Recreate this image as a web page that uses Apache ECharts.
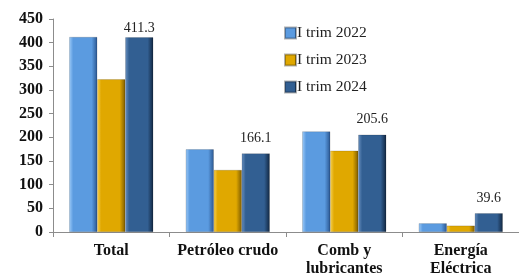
<!DOCTYPE html>
<html><head><meta charset="utf-8">
<script src="https://cdn.jsdelivr.net/npm/echarts@6/dist/echarts.min.js"></script>
<style>html,body{margin:0;padding:0;background:#fff}#c{width:519px;height:278px}</style>
</head><body><div id="c"></div>
<script>
const categories = ['Total', 'Petróleo crudo', 'Comb y\nlubricantes', 'Energía\nEléctrica'];
const seriesNames = ['I trim 2022', 'I trim 2023', 'I trim 2024'];
const values2022 = [412.0, 174.7, 212.5, 18.3];
const values2023 = [322.6, 131.0, 171.8, 13.4];
const values2024 = [411.3, 166.1, 205.6, 39.6];
const yTicks = [0, 50, 100, 150, 200, 250, 300, 350, 400, 450];

const serif = '"Liberation Serif", "DejaVu Serif", serif';
function grad(light, base, dark) {
  return new echarts.graphic.LinearGradient(0, 0, 1, 0, [
    {offset: 0, color: light}, {offset: 0.14, color: base},
    {offset: 0.8, color: base}, {offset: 1, color: dark}
  ]);
}
const fills = [
  grad('#9ccaf8', '#5b9be0', '#2a5690'),
  grad('#f7d050', '#e0a800', '#7d5c00'),
  grad('#6890c0', '#325f92', '#112640')
];
const chart = echarts.init(document.getElementById('c'), null, {renderer: 'canvas'});
const all = [values2022, values2023, values2024];
chart.setOption({
  animation: false,
  grid: {left: 53, right: 0, top: 19, bottom: 46, containLabel: false},
  legend: {
    orient: 'vertical', left: 279, top: 20, itemGap: 11,
    itemWidth: 11, itemHeight: 11,
    textStyle: {fontFamily: serif, fontSize: 15.5, color: '#222', padding: [0, 0, 0, -4]},
    data: seriesNames.map((n, i) => ({name: n, icon: 'rect'}))
  },
  xAxis: {
    type: 'category', data: categories,
    axisLine: {lineStyle: {color: '#8c8c8c', width: 1}},
    axisTick: {show: true, length: 5, lineStyle: {color: '#8c8c8c'}},
    axisLabel: {fontFamily: serif, fontWeight: 'bold', fontSize: 16, color: '#111', margin: 10, lineHeight: 18, interval: 0}
  },
  yAxis: {
    type: 'value', min: yTicks[0], max: yTicks[yTicks.length - 1], interval: 50,
    splitLine: {show: false},
    axisLine: {show: true, lineStyle: {color: '#8c8c8c'}},
    axisTick: {show: true, length: 4, lineStyle: {color: '#8c8c8c'}},
    axisLabel: {fontFamily: serif, fontWeight: 'bold', fontSize: 16, color: '#111', margin: 10}
  },
  series: all.map((vals, i) => ({
    name: seriesNames[i], type: 'bar', barWidth: 28, barGap: '0%',
    itemStyle: {color: fills[i], borderColor: 'rgba(0,0,0,0.3)', borderWidth: 0.5},
    data: vals.map((v, j) => {
      if (i === 2) {
        return {value: v, label: {show: true, position: 'top', distance: j === 0 ? 2 : 8,
          fontFamily: serif, fontSize: 14, color: '#222'}};
      }
      return v;
    })
  }))
});
</script></body></html>
